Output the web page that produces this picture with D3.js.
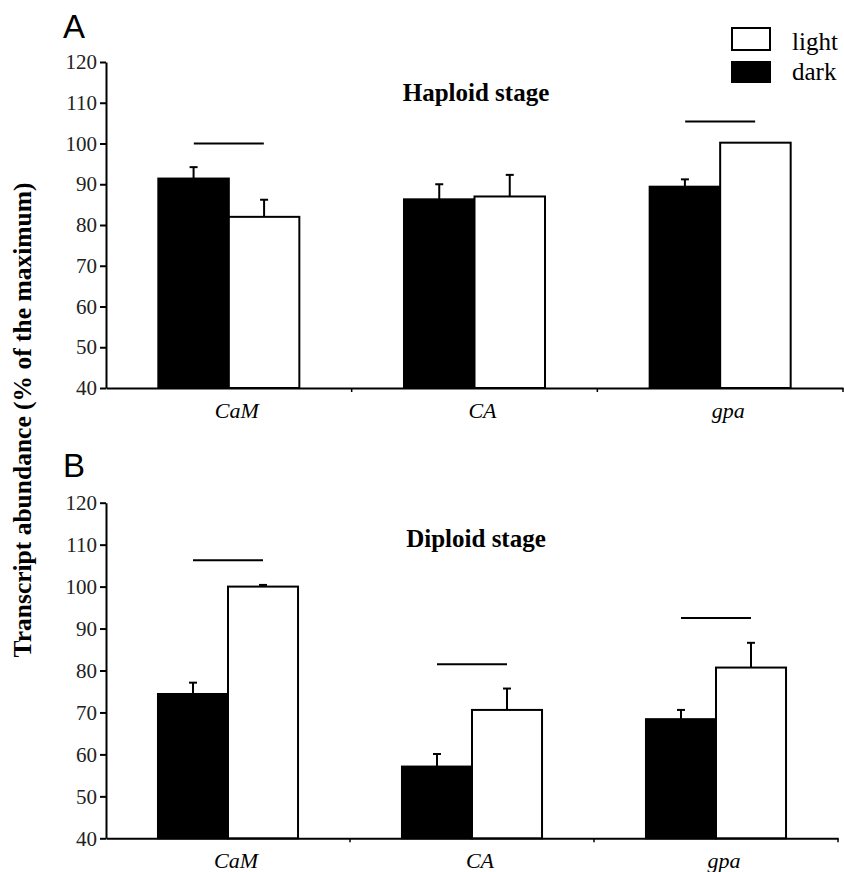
<!DOCTYPE html>
<html lang="en">
<head>
    <title>Transcript abundance</title>
    <meta charset="utf-8">
    <style>
        body { margin: 0; background: #fff; }
        svg text { font-family: "Liberation Serif", "Times New Roman", serif; }
        .tick line, .domain { stroke: #000; stroke-width: 2px; }
    </style>
    <script src="https://d3js.org/d3.v7.min.js"></script>
</head>
<body>
<div id="chart"></div>
<script>
    // values
    const categories = ["CaM", "CA", "gpa"];
    const series = ["dark", "light"];
    const yTicks = [40, 50, 60, 70, 80, 90, 100, 110, 120];

    const haploidDark = [91.4, 86.3, 89.4];
    const haploidDarkErr = [2.8, 3.7, 1.8];
    const haploidLight = [82.0, 87.0, 100.2];
    const haploidLightErr = [4.2, 5.3, 0];
    const haploidSig = [100, null, 105.4];

    const diploidDark = [74.4, 57.1, 68.4];
    const diploidDarkErr = [2.7, 3.0, 2.2];
    const diploidLight = [100.0, 70.6, 80.7];
    const diploidLightErr = [0.4, 5.1, 5.9];
    const diploidSig = [106.3, 81.5, 92.5];

    const W = 844, H = 872;
    const serif = "Liberation Serif";

    const svg = d3.select("#chart")
        .append("svg")
        .attr("width", W)
        .attr("height", H);

    function drawPanel(opt) {
        const g = svg.append("g");

        const x0 = d3.scaleBand()
            .domain(categories)
            .range([106, opt.xEnd])
            .paddingInner(0.426)
            .paddingOuter(0.213);
        const x1 = d3.scaleBand()
            .domain(series)
            .range([0, x0.bandwidth()]);
        const y = d3.scaleLinear()
            .domain([40, 120])
            .range([opt.yBottom, opt.yTop]);

        const rows = categories.map((c, i) => ({
            cat: c,
            sig: opt.sig[i],
            bars: [
                {key: "dark", v: opt.dark[i], e: opt.darkErr[i]},
                {key: "light", v: opt.light[i], e: opt.lightErr[i]}
            ]
        }));

        // y axis
        const yAxis = g.append("g")
            .attr("transform", "translate(106,0)")
            .call(d3.axisLeft(y).tickValues(yTicks).tickSize(6).tickSizeOuter(0).tickPadding(3));
        yAxis.attr("font-family", null).attr("font-size", null);
        yAxis.selectAll(".tick text")
            .style("font-family", serif)
            .style("font-size", "21px")
            .style("fill", "#222");

        // x axis line with small ticks at the group boundaries
        const step = x0.step();
        g.append("g")
            .attr("transform", `translate(0,${opt.yBottom})`)
            .call(d3.axisBottom(x0).tickSize(0).tickSizeOuter(0).tickFormat(""));
        g.append("g")
            .selectAll("line")
            .data(categories)
            .join("line")
            .attr("x1", d => x0(d) - x0.paddingOuter() * step + step)
            .attr("x2", d => x0(d) - x0.paddingOuter() * step + step)
            .attr("y1", opt.yBottom)
            .attr("y2", opt.yBottom + 4)
            .attr("stroke", "#000")
            .attr("stroke-width", 1.5);

        const grp = g.selectAll("g.grp")
            .data(rows)
            .join("g")
            .attr("class", "grp")
            .attr("transform", d => `translate(${x0(d.cat)},0)`);

        // error bars (upper half only)
        grp.selectAll("g.err")
            .data(d => d.bars.filter(b => b.e > 0))
            .join("g")
            .attr("class", "err")
            .each(function (b) {
                const cx = x1(b.key) + x1.bandwidth() / 2;
                const e = d3.select(this);
                e.append("line")
                    .attr("x1", cx).attr("x2", cx)
                    .attr("y1", y(b.v)).attr("y2", y(b.v + b.e))
                    .attr("stroke", "#000").attr("stroke-width", 2);
                e.append("line")
                    .attr("x1", cx - 4).attr("x2", cx + 4)
                    .attr("y1", y(b.v + b.e)).attr("y2", y(b.v + b.e))
                    .attr("stroke", "#000").attr("stroke-width", 2);
            });

        // bars
        grp.selectAll("rect")
            .data(d => d.bars)
            .join("rect")
            .attr("x", b => x1(b.key))
            .attr("y", b => y(b.v))
            .attr("width", x1.bandwidth())
            .attr("height", b => opt.yBottom - y(b.v))
            .attr("fill", b => b.key === "dark" ? "#000" : "#fff")
            .attr("stroke", "#000")
            .attr("stroke-width", 2);

        // significance lines
        grp.filter(d => d.sig != null)
            .append("line")
            .attr("x1", x0.bandwidth() / 2 - 35)
            .attr("x2", x0.bandwidth() / 2 + 35)
            .attr("y1", d => y(d.sig))
            .attr("y2", d => y(d.sig))
            .attr("stroke", "#000")
            .attr("stroke-width", 2);

        // category labels
        g.selectAll("text.cat")
            .data(categories)
            .join("text")
            .attr("class", "cat")
            .attr("x", d => x0(d) + x0.bandwidth() / 2 + 8)
            .attr("y", opt.yBottom + 30)
            .attr("text-anchor", "middle")
            .style("font-family", serif)
            .style("font-style", "italic")
            .style("font-size", "22px")
            .text(d => d);

        // stage title
        g.append("text")
            .attr("x", 476)
            .attr("y", opt.titleY)
            .attr("text-anchor", "middle")
            .style("font-family", serif)
            .style("font-weight", "bold")
            .style("font-size", "25px")
            .text(opt.title);

        // panel letter
        g.append("text")
            .attr("x", 63)
            .attr("y", opt.letterY)
            .style("font-family", "Liberation Sans")
            .style("font-size", "33px")
            .text(opt.letter);
    }

    drawPanel({
        letter: "A", letterY: 38,
        title: "Haploid stage", titleY: 101,
        yTop: 62, yBottom: 388, xEnd: 843,
        dark: haploidDark, darkErr: haploidDarkErr,
        light: haploidLight, lightErr: haploidLightErr,
        sig: haploidSig
    });

    drawPanel({
        letter: "B", letterY: 477,
        title: "Diploid stage", titleY: 547,
        yTop: 502.7, yBottom: 838.3, xEnd: 838,
        dark: diploidDark, darkErr: diploidDarkErr,
        light: diploidLight, lightErr: diploidLightErr,
        sig: diploidSig
    });

    // shared y axis title
    svg.append("text")
        .attr("transform", "translate(31,420) rotate(-90)")
        .attr("text-anchor", "middle")
        .style("font-family", serif)
        .style("font-weight", "bold")
        .style("font-size", "25.5px")
        .text("Transcript abundance (% of the maximum)");

    // legend
    const legend = svg.append("g").attr("transform", "translate(732,28)");
    const legendItems = [{key: "light", fill: "#fff"}, {key: "dark", fill: "#000"}];
    legend.selectAll("rect")
        .data(legendItems)
        .join("rect")
        .attr("x", 0)
        .attr("y", (d, i) => i * 34)
        .attr("width", 38)
        .attr("height", (d, i) => i === 0 ? 22 : 20)
        .attr("fill", d => d.fill)
        .attr("stroke", "#000")
        .attr("stroke-width", 2);
    legend.selectAll("text")
        .data(legendItems)
        .join("text")
        .attr("x", 60)
        .attr("y", (d, i) => 22 + i * 30)
        .style("font-family", serif)
        .style("font-size", "25px")
        .text(d => d.key);
</script>
</body>
</html>
